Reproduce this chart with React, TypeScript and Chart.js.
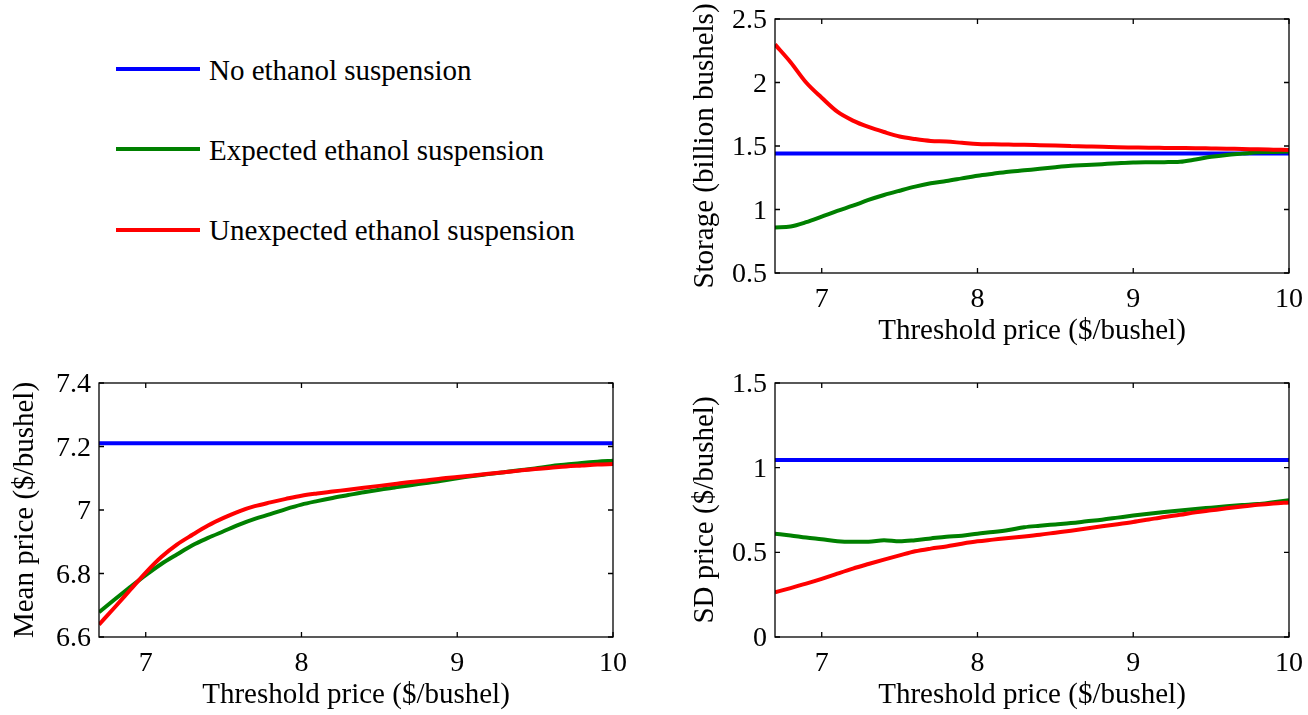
import React, { useEffect, useRef, useState } from "react";
import { Chart, registerables } from "chart.js";

Chart.register(...registerables);

// ---------- data ----------
const thresholdPrice = [6.7, 6.8, 6.9, 7.0, 7.1, 7.2, 7.3, 7.4, 7.5, 7.6, 7.7, 7.8, 7.9, 8.0, 8.1, 8.2, 8.3, 8.4, 8.5, 8.6, 8.7, 8.8, 8.9, 9.0, 9.1, 9.2, 9.3, 9.4, 9.5, 9.6, 9.7, 9.8, 9.9, 10.0];
const noSuspensionX = [6.7, 10.0];

const storageNone = [1.44, 1.44];
const storageExpected = [0.858, 0.866, 0.9, 0.944, 0.989, 1.03, 1.075, 1.114, 1.148, 1.18, 1.206, 1.224, 1.245, 1.266, 1.282, 1.297, 1.309, 1.32, 1.333, 1.344, 1.35, 1.357, 1.364, 1.37, 1.372, 1.373, 1.376, 1.394, 1.415, 1.43, 1.44, 1.45, 1.453, 1.456];
const storageUnexpected = [2.3, 2.16, 2.0, 1.88, 1.77, 1.7, 1.65, 1.61, 1.575, 1.555, 1.54, 1.535, 1.525, 1.515, 1.513, 1.511, 1.509, 1.506, 1.503, 1.5, 1.497, 1.494, 1.49, 1.488, 1.486, 1.485, 1.484, 1.483, 1.481, 1.479, 1.476, 1.474, 1.471, 1.468];

const meanNone = [7.21, 7.21];
const meanExpected = [6.678, 6.718, 6.757, 6.795, 6.83, 6.86, 6.889, 6.912, 6.933, 6.954, 6.972, 6.987, 7.003, 7.017, 7.028, 7.038, 7.047, 7.056, 7.064, 7.071, 7.078, 7.085, 7.092, 7.1, 7.107, 7.113, 7.119, 7.125, 7.131, 7.138, 7.143, 7.148, 7.152, 7.155];
const meanUnexpected = [6.639, 6.693, 6.748, 6.803, 6.852, 6.891, 6.922, 6.951, 6.975, 6.996, 7.012, 7.024, 7.035, 7.045, 7.052, 7.058, 7.064, 7.07, 7.076, 7.082, 7.088, 7.093, 7.099, 7.104, 7.109, 7.114, 7.119, 7.124, 7.129, 7.133, 7.137, 7.14, 7.143, 7.145];

const sdNone = [1.045, 1.045];
const sdExpected = [0.61, 0.6, 0.587, 0.577, 0.566, 0.563, 0.563, 0.572, 0.565, 0.572, 0.582, 0.592, 0.598, 0.61, 0.62, 0.632, 0.648, 0.657, 0.665, 0.673, 0.683, 0.693, 0.705, 0.717, 0.728, 0.738, 0.747, 0.756, 0.764, 0.772, 0.779, 0.785, 0.796, 0.807];
const sdUnexpected = [0.264, 0.289, 0.315, 0.343, 0.374, 0.404, 0.431, 0.457, 0.482, 0.506, 0.522, 0.535, 0.551, 0.565, 0.575, 0.585, 0.594, 0.604, 0.616, 0.628, 0.641, 0.654, 0.666, 0.679, 0.694, 0.709, 0.722, 0.736, 0.748, 0.76, 0.771, 0.781, 0.789, 0.795];

const xTicks = [7, 8, 9, 10];
const storageTicks = [0.5, 1, 1.5, 2, 2.5];
const meanTicks = [6.6, 6.8, 7, 7.2, 7.4];
const sdTicks = [0, 0.5, 1, 1.5];

const seriesLabels = ["No ethanol suspension", "Expected ethanol suspension", "Unexpected ethanol suspension"];
const seriesColors = ["#0000ff", "#008000", "#ff0000"];

const xTitle = "Threshold price ($/bushel)";

const FONT = "'Liberation Serif', 'Times New Roman', Times, serif";
const TITLE_FS = 29;
const TICK_FS = 28;

Chart.defaults.font.family = FONT;
Chart.defaults.font.size = TITLE_FS;
Chart.defaults.color = "#000";

const fmt = (v: number) => String(Math.round(v * 100) / 100);

// ---------- plugin: MATLAB-like box with inward ticks ----------
const boxPlugin = {
  id: "matlabBox",
  afterDatasetsDraw(chart: any) {
    const { ctx, chartArea: a, scales } = chart;
    ctx.save();
    ctx.strokeStyle = "#000";
    ctx.lineWidth = 1.3;
    ctx.strokeRect(a.left, a.top, a.right - a.left, a.bottom - a.top);
    const tl = 5;
    ctx.beginPath();
    scales.x.ticks.forEach((t: any) => {
      const px = scales.x.getPixelForValue(t.value);
      ctx.moveTo(px, a.bottom);
      ctx.lineTo(px, a.bottom - tl);
      ctx.moveTo(px, a.top);
      ctx.lineTo(px, a.top + tl);
    });
    scales.y.ticks.forEach((t: any) => {
      const py = scales.y.getPixelForValue(t.value);
      ctx.moveTo(a.left, py);
      ctx.lineTo(a.left + tl, py);
      ctx.moveTo(a.right, py);
      ctx.lineTo(a.right - tl, py);
    });
    ctx.stroke();
    ctx.restore();
  },
};

type PanelProps = {
  left: number;
  top: number;
  width: number;
  height: number;
  yAxisWidth: number;
  xAxisHeight: number;
  padTop: number;
  padRight: number;
  yTitle: string;
  yTitlePad: number;
  xTitlePad: number;
  yMin: number;
  yMax: number;
  yTicks: number[];
  none: number[];
  expected: number[];
  unexpected: number[];
};

type TickLabel = { text: string; x: number; y: number; align: "center" | "right" };

function Panel(p: PanelProps) {
  const ref = useRef<HTMLCanvasElement | null>(null);
  const [labels, setLabels] = useState<TickLabel[]>([]);
  useEffect(() => {
    if (!ref.current) return;
    const pts = (ys: number[], xs: number[]) => ys.map((y, i) => ({ x: xs[i], y }));
    const ds = (label: string, color: string, data: any[]) => ({
      label,
      data,
      borderColor: color,
      backgroundColor: color,
      borderWidth: 4,
      pointRadius: 0,
      fill: false,
      cubicInterpolationMode: "monotone" as const,
      clip: 0,
    });
    const font = { family: FONT, size: TITLE_FS };
    const chart = new Chart(ref.current, {
      type: "line",
      data: {
        datasets: [
          ds(seriesLabels[2], seriesColors[2], pts(p.unexpected, thresholdPrice)),
          ds(seriesLabels[1], seriesColors[1], pts(p.expected, thresholdPrice)),
          ds(seriesLabels[0], seriesColors[0], pts(p.none, noSuspensionX)),
        ],
      },
      options: {
        responsive: false,
        animation: false,
        events: [],
        layout: { padding: { top: p.padTop, right: p.padRight, left: 0, bottom: 0 } },
        plugins: { legend: { display: false }, tooltip: { enabled: false } },
        scales: {
          x: {
            type: "linear",
            min: 6.7,
            max: 10,
            grid: { display: false },
            border: { display: false },
            afterBuildTicks: (s: any) => {
              s.ticks = xTicks.map((v) => ({ value: v }));
            },
            afterFit: (s: any) => {
              s.height = p.xAxisHeight;
            },
            ticks: { display: false },
            title: {
              display: true,
              text: xTitle,
              color: "#000",
              font,
              padding: { top: 0, bottom: p.xTitlePad },
            },
          },
          y: {
            type: "linear",
            min: p.yMin,
            max: p.yMax,
            grid: { display: false },
            border: { display: false },
            afterBuildTicks: (s: any) => {
              s.ticks = p.yTicks.map((v) => ({ value: v }));
            },
            afterFit: (s: any) => {
              s.width = p.yAxisWidth;
            },
            ticks: { display: false },
            title: {
              display: true,
              text: p.yTitle,
              color: "#000",
              font,
              padding: { top: p.yTitlePad, bottom: 0 },
            },
          },
        },
      },
      plugins: [boxPlugin],
    });
    // tick labels positioned from the chart's own scales
    const a = chart.chartArea;
    const sx: any = chart.scales.x;
    const sy: any = chart.scales.y;
    const xl: TickLabel[] = sx.ticks.map((t: any) => ({
      text: fmt(t.value),
      x: sx.getPixelForValue(t.value),
      y: a.bottom + 25,
      align: "center" as const,
    }));
    const yl: TickLabel[] = sy.ticks.map((t: any) => ({
      text: fmt(t.value),
      x: a.left - 8,
      y: sy.getPixelForValue(t.value),
      align: "right" as const,
    }));
    setLabels([...xl, ...yl]);
    return () => chart.destroy();
  }, []);
  return (
    <div style={{ position: "absolute", left: p.left, top: p.top, width: p.width, height: p.height }}>
      <canvas ref={ref} width={p.width} height={p.height} style={{ width: p.width, height: p.height, display: "block" }} />
      {labels.map((l, i) => (
        <div
          key={i}
          style={{
            position: "absolute",
            left: l.x,
            top: l.y,
            transform: l.align === "center" ? "translate(-50%, -50%)" : "translate(-100%, -50%)",
            fontFamily: FONT,
            fontSize: TICK_FS,
            lineHeight: `${TICK_FS}px`,
            whiteSpace: "nowrap",
            color: "#000",
          }}
        >
          {l.text}
        </div>
      ))}
    </div>
  );
}

function Legend() {
  const rows = [69.3, 149.3, 230];
  return (
    <>
      {seriesLabels.map((label, i) => (
        <React.Fragment key={label}>
          <div
            style={{
              position: "absolute",
              left: 116,
              top: rows[i] - 2,
              width: 84,
              height: 4,
              background: seriesColors[i],
            }}
          />
          <div
            style={{
              position: "absolute",
              left: 209,
              top: rows[i] - 13.8,
              fontFamily: FONT,
              fontSize: 29,
              lineHeight: "29px",
              whiteSpace: "nowrap",
              color: "#000",
            }}
          >
            {label}
          </div>
        </React.Fragment>
      ))}
    </>
  );
}

export default function App() {
  return (
    <div
      style={{
        position: "absolute",
        left: 0,
        top: 0,
        width: 1308,
        height: 715,
        background: "#fff",
        overflow: "hidden",
      }}
    >
      <Legend />
      <Panel
        left={680}
        top={0}
        width={628}
        height={350}
        yAxisWidth={95}
        xAxisHeight={77}
        padTop={19}
        padRight={19}
        yTitle="Storage (billion bushels)"
        yTitlePad={7.5}
        xTitlePad={1.5}
        yMin={0.5}
        yMax={2.5}
        yTicks={storageTicks}
        none={storageNone}
        expected={storageExpected}
        unexpected={storageUnexpected}
      />
      <Panel
        left={0}
        top={360}
        width={650}
        height={355}
        yAxisWidth={99}
        xAxisHeight={78}
        padTop={23}
        padRight={37}
        yTitle="Mean price ($/bushel)"
        yTitlePad={8}
        xTitlePad={2.5}
        yMin={6.6}
        yMax={7.4}
        yTicks={meanTicks}
        none={meanNone}
        expected={meanExpected}
        unexpected={meanUnexpected}
      />
      <Panel
        left={680}
        top={360}
        width={628}
        height={355}
        yAxisWidth={95}
        xAxisHeight={78}
        padTop={23}
        padRight={19}
        yTitle="SD price ($/bushel)"
        yTitlePad={7.5}
        xTitlePad={2.5}
        yMin={0}
        yMax={1.5}
        yTicks={sdTicks}
        none={sdNone}
        expected={sdExpected}
        unexpected={sdUnexpected}
      />
    </div>
  );
}
